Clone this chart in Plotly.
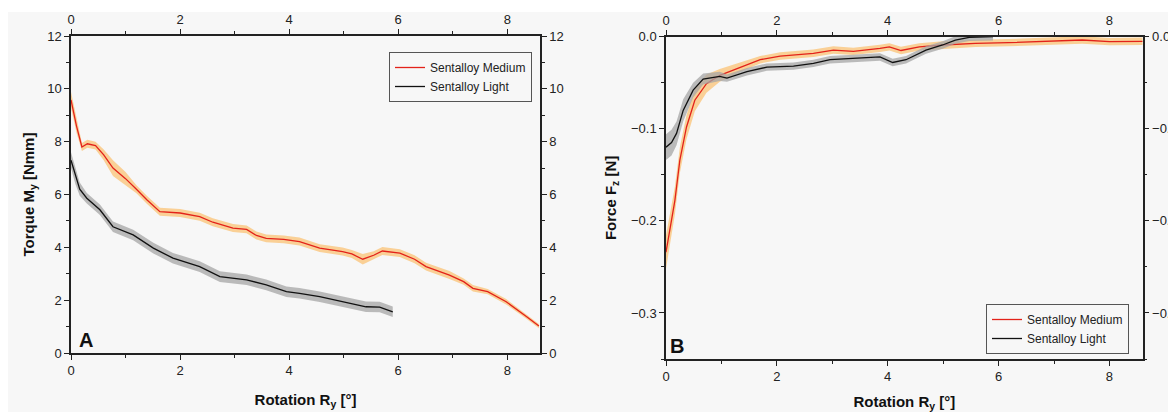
import plotly.graph_objects as go

# ---------------- data ----------------
# Panel A: torque vs rotation
a_med_x = [0, 0.1, 0.2, 0.3, 0.45, 0.6, 0.77, 1.0, 1.2, 1.39, 1.63, 2.0, 2.36, 2.6, 2.97, 3.22, 3.4, 3.58,
           3.9, 4.19, 4.56, 4.98, 5.15, 5.35, 5.55, 5.71, 6.03, 6.3, 6.51, 6.94, 7.2, 7.37, 7.64, 7.98, 8.35, 8.58]
a_med_y = [9.58, 8.6, 7.8, 7.92, 7.85, 7.5, 7.0, 6.6, 6.2, 5.8, 5.35, 5.3, 5.16, 4.95, 4.73, 4.68, 4.45, 4.34,
           4.3, 4.22, 3.97, 3.84, 3.75, 3.55, 3.7, 3.86, 3.78, 3.55, 3.27, 2.95, 2.7, 2.45, 2.32, 1.94, 1.38, 1.02]
a_med_err = [0.3, 0.25, 0.15, 0.15, 0.15, 0.2, 0.3, 0.25, 0.15, 0.15, 0.15, 0.15, 0.15, 0.15, 0.15, 0.15, 0.15, 0.15,
             0.15, 0.15, 0.15, 0.15, 0.15, 0.2, 0.15, 0.15, 0.15, 0.15, 0.15, 0.15, 0.12, 0.12, 0.1, 0.1, 0.08, 0.08]

a_lig_x = [0, 0.08, 0.16, 0.29, 0.53, 0.77, 1.14, 1.51, 1.87, 2.36, 2.73, 3.22, 3.58, 3.95, 4.19, 4.56, 4.98,
           5.41, 5.66, 5.9]
a_lig_y = [7.3, 6.7, 6.2, 5.86, 5.42, 4.78, 4.47, 3.97, 3.59, 3.27, 2.89, 2.77, 2.58, 2.32, 2.26, 2.13, 1.94,
           1.75, 1.74, 1.56]
a_lig_err = [0.3, 0.3, 0.25, 0.2, 0.2, 0.2, 0.2, 0.2, 0.2, 0.2, 0.2, 0.2, 0.2, 0.2, 0.2, 0.2, 0.2, 0.2, 0.2, 0.2]

# Panel B: force vs rotation
b_med_x = [0, 0.08, 0.16, 0.25, 0.37, 0.52, 0.73, 0.97, 1.34, 1.70, 2.06, 2.66, 3.02, 3.38, 3.86, 4.03, 4.24,
           4.57, 4.99, 5.58, 6.18, 6.79, 7.51, 8.0, 8.6]
b_med_y = [-0.234, -0.205, -0.178, -0.134, -0.098, -0.069, -0.051, -0.042, -0.033, -0.025, -0.021, -0.018,
           -0.0145, -0.016, -0.0127, -0.011, -0.015, -0.011, -0.009, -0.0072, -0.0065, -0.0054, -0.0036,
           -0.0054, -0.005]
b_med_err = [0.018, 0.016, 0.015, 0.014, 0.013, 0.012, 0.01, 0.007, 0.005, 0.004, 0.004, 0.004, 0.004, 0.004,
             0.004, 0.004, 0.004, 0.004, 0.004, 0.004, 0.004, 0.004, 0.004, 0.004, 0.004]

b_lig_x = [0, 0.1, 0.19, 0.31, 0.49, 0.67, 0.97, 1.10, 1.46, 1.82, 2.30, 2.66, 2.96, 3.38, 3.86, 4.09, 4.33,
           4.69, 4.99, 5.22, 5.47, 5.9]
b_lig_y = [-0.12, -0.115, -0.105, -0.080, -0.058, -0.046, -0.043, -0.045, -0.038, -0.033, -0.032, -0.029,
           -0.025, -0.0235, -0.022, -0.028, -0.025, -0.0145, -0.009, -0.0036, -0.0007, 0.0]
b_lig_err = [0.014, 0.014, 0.013, 0.012, 0.008, 0.006, 0.005, 0.004, 0.004, 0.004, 0.004, 0.004, 0.004, 0.004,
             0.004, 0.004, 0.004, 0.004, 0.004, 0.004, 0.004, 0.004]

x_ticks = [0, 2, 4, 6, 8]
names = ["Sentalloy Medium", "Sentalloy Light"]

RED = "#e3221a"
BLACK = "#111111"
ORANGE = "rgba(250,198,125,0.8)"
GRAY = "rgba(165,165,165,0.75)"
FONT = "Liberation Sans, Arial, sans-serif"

fig = go.Figure()


def add_series(x, y, err, xa, ya, line_color, band_color, name, legend):
    up = [v + e for v, e in zip(y, err)]
    lo = [v - e for v, e in zip(y, err)]
    fig.add_trace(go.Scatter(x=x + x[::-1], y=up + lo[::-1], fill="toself", fillcolor=band_color,
                             line=dict(width=0), mode="lines", showlegend=False, hoverinfo="skip",
                             xaxis=xa, yaxis=ya))
    fig.add_trace(go.Scatter(x=x, y=y, mode="lines", line=dict(color=line_color, width=1.3), name=name,
                             xaxis=xa, yaxis=ya, legend=legend))


add_series(a_med_x, a_med_y, a_med_err, "x", "y", RED, ORANGE, names[0], "legend")
add_series(a_lig_x, a_lig_y, a_lig_err, "x", "y", BLACK, GRAY, names[1], "legend")
add_series(b_med_x, b_med_y, b_med_err, "x3", "y3", RED, ORANGE, names[0], "legend2")
add_series(b_lig_x, b_lig_y, b_lig_err, "x3", "y3", BLACK, GRAY, names[1], "legend2")

# empty traces so the mirrored (top / right) axes get drawn
for xa, ya in [("x2", "y2"), ("x4", "y4")]:
    fig.add_trace(go.Scatter(x=[], y=[], xaxis=xa, yaxis=ya, showlegend=False, hoverinfo="skip"))

# the page has an 8 px body margin: positions below are reference-screen pixels minus 8
OFF = 8
W, H = 1168, 404


def fx(px):
    return (px - OFF) / W


def fy(py):
    return 1 - (py - OFF) / H


dA_x = [fx(71), fx(540)]
dA_y = [fy(353), fy(36)]
dB_x = [fx(666), fx(1142.7)]
dB_y = [fy(359), fy(36.7)]

tickfont = dict(family=FONT, size=13, color="#222")
titlefont = dict(family=FONT, size=15, color="#111", weight="bold")

common = dict(showline=True, linecolor="#222", linewidth=1.5, ticks="outside", ticklen=5, tickwidth=1.3,
              tickcolor="#222", showgrid=False, zeroline=False, tickfont=tickfont, automargin=False)
mx = dict(dtick=1, ticks="outside", ticklen=3, tickcolor="#222")
my = dict(dtick=1, ticks="outside", ticklen=3, tickcolor="#222")
myb = dict(dtick=0.05, ticks="outside", ticklen=3, tickcolor="#222")

legfont = dict(family=FONT, size=12, color="#222")

xr = [0, 8.6]
fig.update_layout(
    width=W, height=H,
    margin=dict(l=0, r=0, t=0, b=0, autoexpand=False),
    paper_bgcolor="#f7f7f7", plot_bgcolor="rgba(0,0,0,0)",
    font=dict(family=FONT),
    xaxis=dict(domain=dA_x, anchor="y", range=xr, tickvals=x_ticks, minor=mx,
               title=dict(text="Rotation R<sub>y</sub> [°]", font=titlefont, standoff=17), **common),
    xaxis2=dict(domain=dA_x, anchor="y", overlaying="x", side="top", range=xr, tickvals=x_ticks, minor=mx,
                **common),
    yaxis=dict(domain=dA_y, anchor="x", range=[0, 12], dtick=2, minor=my,
               title=dict(text="Torque M<sub>y</sub> [Nmm]", font=titlefont, standoff=9), **common),
    yaxis2=dict(domain=dA_y, anchor="x", overlaying="y", side="right", range=[0, 12], dtick=2, minor=my,
                **common),
    xaxis3=dict(domain=dB_x, anchor="y3", range=xr, tickvals=x_ticks, minor=mx,
                title=dict(text="Rotation R<sub>y</sub> [°]", font=titlefont, standoff=16), **common),
    xaxis4=dict(domain=dB_x, anchor="y3", overlaying="x3", side="top", range=xr, tickvals=x_ticks, minor=mx,
                **common),
    yaxis3=dict(domain=dB_y, anchor="x3", range=[-0.35, 0], dtick=0.1, tickformat=".1f", minor=myb,
                title=dict(text="Force F<sub>z</sub> [N]", font=titlefont, standoff=11), **common),
    yaxis4=dict(domain=dB_y, anchor="x3", overlaying="y3", side="right", range=[-0.35, 0], dtick=0.1,
                tickformat=".1f", minor=myb, **common),
    legend=dict(x=fx(389), y=fy(52), xanchor="left", yanchor="top", bgcolor="rgba(255,255,255,0)",
                bordercolor="#555", borderwidth=1, font=legfont,
                tracegroupgap=0, itemwidth=30, traceorder="normal"),
    legend2=dict(x=fx(986), y=fy(354), xanchor="left", yanchor="bottom", bgcolor="rgba(255,255,255,0)",
                 bordercolor="#555", borderwidth=1, font=legfont,
                 tracegroupgap=0, itemwidth=30, traceorder="normal"),
    annotations=[
        dict(text="<b>A</b>", xref="paper", yref="paper", x=fx(77), y=fy(340), showarrow=False,
             xanchor="left", yanchor="middle", font=dict(family=FONT, size=20, color="#111")),
        dict(text="<b>B</b>", xref="paper", yref="paper", x=fx(668), y=fy(346), showarrow=False,
             xanchor="left", yanchor="middle", font=dict(family=FONT, size=20, color="#111")),
    ],
    shapes=[
        dict(type="rect", xref="paper", yref="paper", x0=0, x1=1, y0=fy(12), y1=1, fillcolor="white",
             line=dict(width=0), layer="below"),
    ],
)

fig.write_html("out.html")
